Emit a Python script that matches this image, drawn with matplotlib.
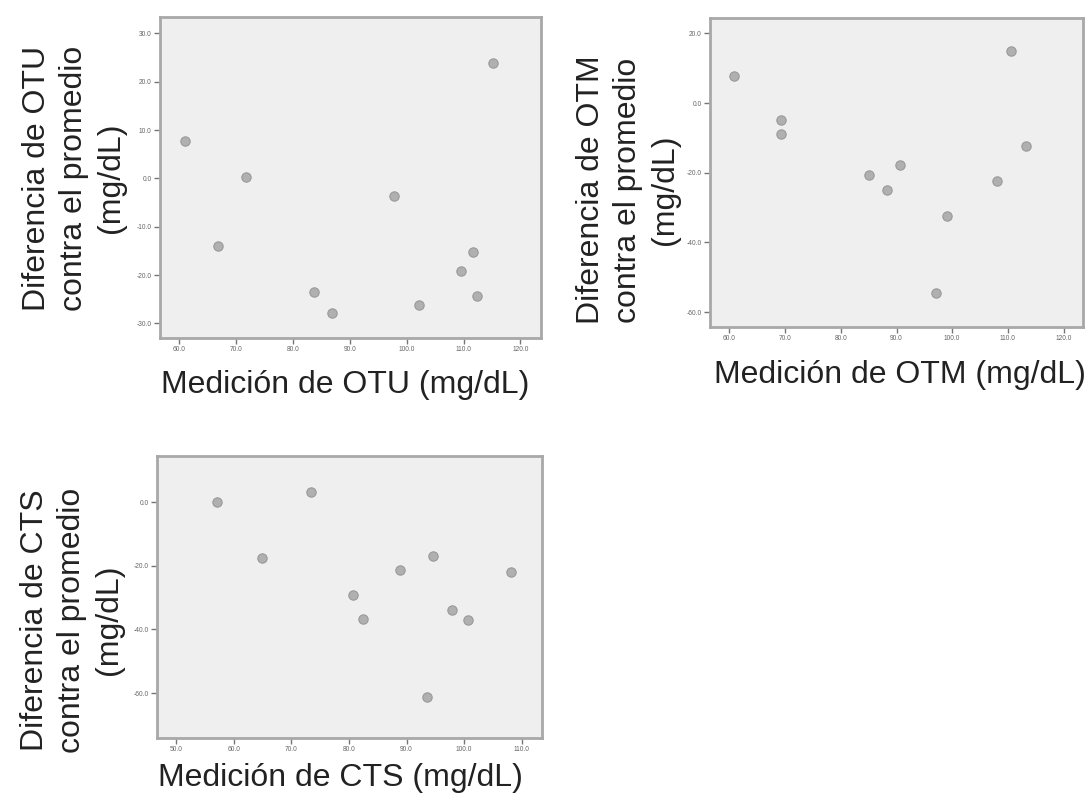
import matplotlib
matplotlib.use("Agg")
import matplotlib.pyplot as plt
from matplotlib.ticker import FormatStrFormatter

plt.rcParams['font.family'] = ['Liberation Sans', 'DejaVu Sans']

# OTU
otu_x = [61.05, 66.8, 71.8, 83.8, 86.9, 97.8, 102.1, 109.6, 111.7, 112.3, 115.2]
otu_y = [7.8, -13.9, 0.2, -23.5, -27.9, -3.7, -26.2, -19.1, -15.3, -24.4, 23.9]
otu_xticks = [60, 70, 80, 90, 100, 110, 120]
otu_yticks = [-30, -20, -10, 0, 10, 20, 30]

# OTM
otm_x = [60.9, 69.3, 69.3, 85.1, 88.3, 90.7, 97.1, 99.1, 108.1, 110.5, 113.2]
otm_y = [7.8, -4.9, -8.9, -20.6, -25.0, -17.7, -54.4, -32.3, -22.3, 14.9, -12.3]
otm_xticks = [60, 70, 80, 90, 100, 110, 120]
otm_yticks = [-60, -40, -20, 0, 20]

# CTS
cts_x = [57.1, 73.4, 64.9, 80.7, 82.4, 88.8, 94.6, 93.6, 97.9, 100.6, 108.2]
cts_y = [0.0, 3.3, -17.4, -29.2, -36.8, -21.3, -16.9, -61.2, -33.8, -37.0, -21.8]
cts_xticks = [50, 60, 70, 80, 90, 100, 110]
cts_yticks = [-60, -40, -20, 0]

W, H = 1089, 800
fig = plt.figure(figsize=(W / 100, H / 100), dpi=100)

def px_axes(l, t, r, b):
    return fig.add_axes([l / W, 1 - b / H, (r - l) / W, (b - t) / H])

def style(ax, xt, yt, xlim, ylim):
    ax.set_facecolor('#efefef')
    for s in ax.spines.values():
        s.set_color('#a8a8a8')
        s.set_linewidth(2)
    ax.set_xticks(xt)
    ax.set_yticks(yt)
    ax.set_xlim(*xlim)
    ax.set_ylim(*ylim)
    ax.xaxis.set_major_formatter(FormatStrFormatter('%.1f'))
    ax.yaxis.set_major_formatter(FormatStrFormatter('%.1f'))
    ax.tick_params(axis='both', direction='out', length=4, width=1,
                   color='#777777', labelsize=4.8, labelcolor='#666666', pad=2)

def scatter(ax, x, y):
    ax.scatter(x, y, s=45, facecolor='#b0b0b0', edgecolor='#999999', linewidth=0.8, zorder=3)

ax1 = px_axes(160, 17, 541, 338)
scatter(ax1, otu_x, otu_y)
style(ax1, otu_xticks, otu_yticks, (56.7, 123.6), (-33.0, 33.4))

ax2 = px_axes(710, 18, 1083, 327)
scatter(ax2, otm_x, otm_y)
style(ax2, otm_xticks, otm_yticks, (56.5, 123.5), (-64.3, 24.4))

ax3 = px_axes(157, 456, 542, 738)
scatter(ax3, cts_x, cts_y)
style(ax3, cts_xticks, cts_yticks, (46.7, 113.5), (-74.1, 14.5))

fs = 23
def ftext(x, y, s, **kw):
    fig.text(x / W, 1 - y / H, s, fontsize=fs, color='#222222', ha='center', va='center', **kw)

ftext(74, 178, "Diferencia de OTU\ncontra el promedio\n(mg/dL)", rotation=90, linespacing=1.3)
ftext(345, 385, "Medición de OTU (mg/dL)")
ftext(628, 190, "Diferencia de OTM\ncontra el promedio\n(mg/dL)", rotation=90, linespacing=1.3)
ftext(900, 375, "Medición de OTM (mg/dL)")
ftext(72, 620, "Diferencia de CTS\ncontra el promedio\n(mg/dL)", rotation=90, linespacing=1.3)
ftext(340, 778, "Medición de CTS (mg/dL)")

fig.savefig("out.png", dpi=100)
